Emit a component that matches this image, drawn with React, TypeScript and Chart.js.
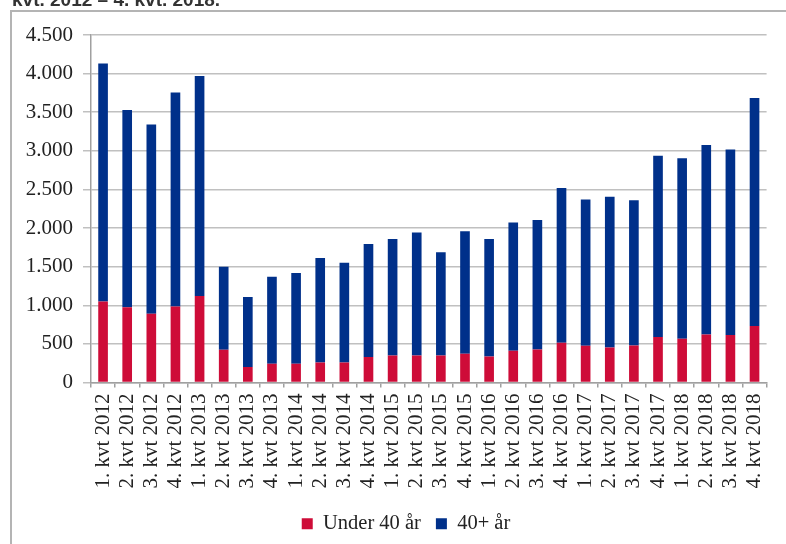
import React, { useEffect, useRef } from "react";
import { Chart, registerables } from "chart.js";

Chart.register(...registerables);

const categories: string[] = [
  "1. kvt 2012", "2. kvt 2012", "3. kvt 2012", "4. kvt 2012",
  "1. kvt 2013", "2. kvt 2013", "3. kvt 2013", "4. kvt 2013",
  "1. kvt 2014", "2. kvt 2014", "3. kvt 2014", "4. kvt 2014",
  "1. kvt 2015", "2. kvt 2015", "3. kvt 2015", "4. kvt 2015",
  "1. kvt 2016", "2. kvt 2016", "3. kvt 2016", "4. kvt 2016",
  "1. kvt 2017", "2. kvt 2017", "3. kvt 2017", "4. kvt 2017",
  "1. kvt 2018", "2. kvt 2018", "3. kvt 2018", "4. kvt 2018",
];

const under40: number[] = [
  1050, 975, 890, 985,
  1120, 425, 200, 242,
  242, 259, 259, 330,
  350, 350, 350, 372,
  337, 411, 428, 515,
  476, 454, 480, 588,
  566, 623, 614, 731,
];

const over40: number[] = [
  3080, 2555, 2450, 2770,
  2850, 1075, 907, 1129,
  1176, 1353, 1293, 1464,
  1509, 1591, 1336, 1586,
  1522, 1660, 1677, 2005,
  1893, 1950, 1881, 2347,
  2339, 2451, 2404, 2953,
];

const seriesNames: string[] = ["Under 40 år", "40+ år"];
const clippedTitle = "kvt. 2012 – 4. kvt. 2018.";

const SERIF = '"Liberation Serif", "Times New Roman", serif';

const frameAndTitle = {
  id: "frameAndTitle",
  afterLayout(chart: any) {
    if (chart.legend) {
      chart.legend.left = 41;
    }
  },
  beforeDraw(chart: any) {
    const ctx = chart.ctx;
    ctx.save();
    ctx.fillStyle = "#ffffff";
    ctx.fillRect(0, 0, chart.width, chart.height);
    ctx.strokeStyle = "#b4b4b4";
    ctx.lineWidth = 2;
    ctx.beginPath();
    ctx.moveTo(11, chart.height);
    ctx.lineTo(11, 11);
    ctx.lineTo(chart.width, 11);
    ctx.stroke();
    ctx.fillStyle = "#333333";
    ctx.font = 'bold 19px "Liberation Sans", Arial, sans-serif';
    ctx.textBaseline = "alphabetic";
    ctx.textAlign = "left";
    ctx.fillText(clippedTitle, 12, 6);
    ctx.restore();
  },
};

const fmt = (v: number) =>
  String(v).replace(/\B(?=(\d{3})+(?!\d))/g, ".");

export default function App() {
  const ref = useRef<HTMLCanvasElement | null>(null);

  useEffect(() => {
    if (!ref.current) return;
    const chart = new Chart(ref.current, {
      type: "bar",
      data: {
        labels: categories,
        datasets: [
          {
            label: seriesNames[0],
            data: under40,
            backgroundColor: "#CE0C38",
            borderWidth: 0,
            barPercentage: 0.4,
            categoryPercentage: 1,
          },
          {
            label: seriesNames[1],
            data: over40,
            backgroundColor: "#00308A",
            borderWidth: 0,
            barPercentage: 0.4,
            categoryPercentage: 1,
          },
        ],
      },
      options: {
        responsive: false,
        animation: false,
        layout: { padding: { top: 35, right: 15, left: 0, bottom: 0 } },
        plugins: {
          legend: {
            position: "bottom",
            labels: {
              boxWidth: 11,
              boxHeight: 11,
              padding: 15,
              color: "#222222",
              font: { family: SERIF, size: 20.5 },
            },
          },
          tooltip: { enabled: false },
        },
        scales: {
          x: {
            stacked: true,
            grid: {
              display: true,
              drawOnChartArea: false,
              drawTicks: true,
              tickLength: 5,
              color: "#a0a0a0",
              lineWidth: 1.5,
              offset: true,
            },
            border: { display: true, color: "#a0a0a0", width: 1.5 },
            ticks: {
              autoSkip: false,
              minRotation: 90,
              maxRotation: 90,
              padding: 6,
              color: "#222222",
              font: { family: SERIF, size: 21 },
            },
            afterFit: (s: any) => {
              s.height = 116;
            },
          },
          y: {
            stacked: true,
            min: 0,
            max: 4500,
            grid: {
              color: "#c0c0c0",
              lineWidth: 1.5,
              tickLength: 8,
            },
            border: { display: true, color: "#a0a0a0", width: 1.5 },
            ticks: {
              stepSize: 500,
              padding: 10,
              color: "#222222",
              font: { family: SERIF, size: 21 },
              callback: (v: any) => fmt(Number(v)),
            },
            afterFit: (s: any) => {
              s.width = 91;
            },
          },
        },
      },
      plugins: [frameAndTitle],
    });
    return () => chart.destroy();
  }, []);

  return (
    <div style={{ position: "absolute", left: 0, top: 0, width: 786, height: 544 }}>
      <canvas ref={ref} width={786} height={544} style={{ display: "block" }} />
    </div>
  );
}
